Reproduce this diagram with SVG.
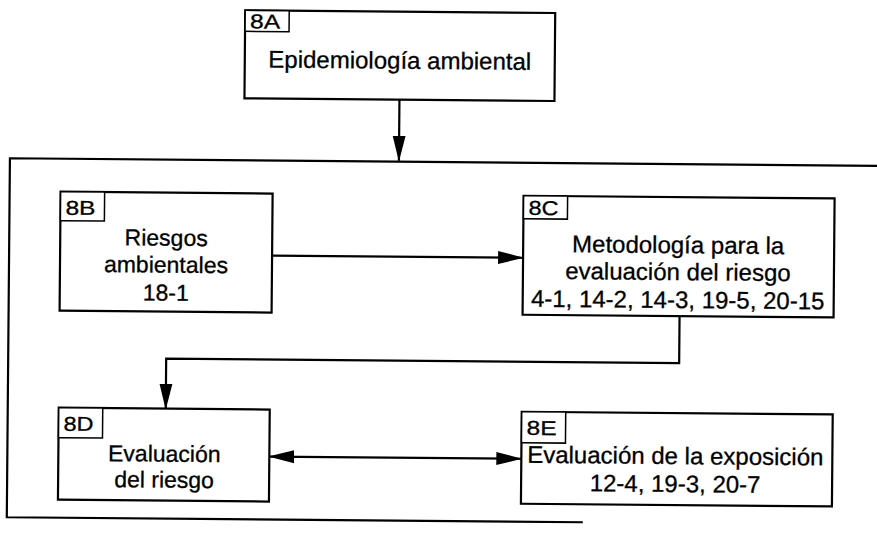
<svg xmlns="http://www.w3.org/2000/svg" width="877" height="533" viewBox="0 0 877 533">
<defs>
<marker id="ah" markerUnits="userSpaceOnUse" markerWidth="26" markerHeight="14" refX="25" refY="7" orient="auto-start-reverse">
<path d="M0,0.5 L26,7 L0,13.5 Z" fill="#000"/>
</marker>
<style>
.box{fill:#fff;stroke:#000;stroke-width:2.2}
.tag{fill:#fff;stroke:#000;stroke-width:1.5}
.t{font-family:"Liberation Sans",Arial,sans-serif;fill:#000;stroke:#000;stroke-width:0.3;text-anchor:middle}
.tg{font-family:"Liberation Sans",Arial,sans-serif;fill:#000;stroke:#000;stroke-width:0.3;font-size:20px}
.ln{fill:none;stroke:#000;stroke-width:2.2}
</style>
</defs>
<rect width="877" height="533" fill="#fff"/>
<g transform="rotate(0.5 438 266)">
<g id="container">
<path class="ln" d="M895,162 H9 V521 H585"/>
</g>
<g id="connectors">
<path class="ln" d="M398,100 V161" marker-end="url(#ah)"/>
<path class="ln" d="M272,257 H523" marker-end="url(#ah)"/>
<path class="ln" d="M680,314 V361 H167 V411" marker-end="url(#ah)"/>
<path class="ln" d="M271,458 H523" marker-start="url(#ah)" marker-end="url(#ah)"/>
</g>
<g id="n8A">
<rect class="box" x="243" y="12" width="310" height="88"/>
<rect class="tag" x="243" y="12" width="44" height="21"/>
<text class="tg" x="248" y="30" textLength="30" lengthAdjust="spacingAndGlyphs">8A</text>
<text class="t" x="398" y="69" font-size="24">Epidemiología ambiental</text>
</g>
<g id="n8B">
<rect class="box" x="60" y="195" width="212" height="119"/>
<rect class="tag" x="60" y="195" width="44" height="29"/>
<text class="tg" x="65" y="218" textLength="30" lengthAdjust="spacingAndGlyphs">8B</text>
<text class="t" x="166" y="248" font-size="23">Riesgos</text>
<text class="t" x="166" y="275" font-size="23">ambientales</text>
<text class="t" x="166" y="303" font-size="23">18-1</text>
</g>
<g id="n8C">
<rect class="box" x="523" y="195" width="311" height="119"/>
<rect class="tag" x="523" y="195" width="44" height="23"/>
<text class="tg" x="528" y="214" textLength="30" lengthAdjust="spacingAndGlyphs">8C</text>
<text class="t" x="678" y="251" font-size="24">Metodología para la</text>
<text class="t" x="678" y="278" font-size="24">evaluación del riesgo</text>
<text class="t" x="678" y="306" font-size="24">4-1, 14-2, 14-3, 19-5, 20-15</text>
</g>
<g id="n8D">
<rect class="box" x="60" y="411" width="211" height="92"/>
<rect class="tag" x="60" y="411" width="44" height="30"/>
<text class="tg" x="65" y="434" textLength="30" lengthAdjust="spacingAndGlyphs">8D</text>
<text class="t" x="166" y="464" font-size="23">Evaluación</text>
<text class="t" x="166" y="490" font-size="23">del riesgo</text>
</g>
<g id="n8E">
<rect class="box" x="523" y="411" width="311" height="92"/>
<rect class="tag" x="523" y="411" width="44" height="31"/>
<text class="tg" x="528" y="434" textLength="30" lengthAdjust="spacingAndGlyphs">8E</text>
<text class="t" x="677" y="462" font-size="24">Evaluación de la exposición</text>
<text class="t" x="677" y="490" font-size="24">12-4, 19-3, 20-7</text>
</g>
</g>
</svg>
